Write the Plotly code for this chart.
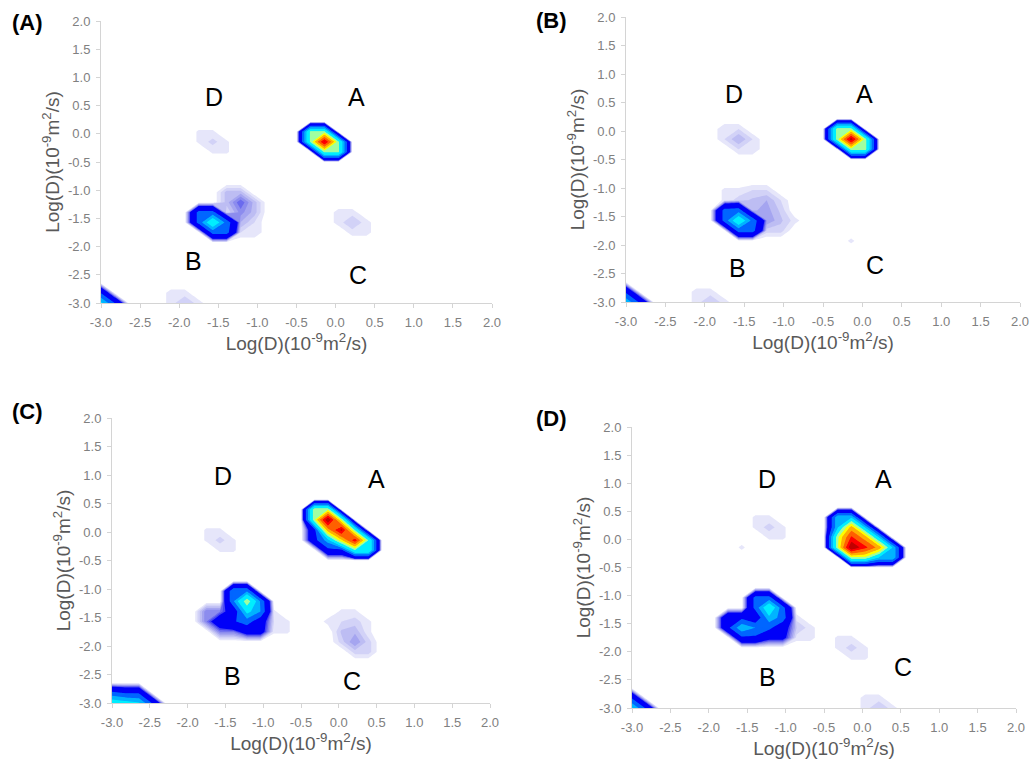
import numpy as np
import plotly.graph_objects as go

# ---------------- data ----------------
# Log(D) sampling grid shared by both axes (29 nodes, -3 .. 2)
logD_grid = [-3.0, -2.821, -2.643, -2.464, -2.286, -2.107, -1.929, -1.75, -1.571,
             -1.393, -1.214, -1.036, -0.857, -0.679, -0.5, -0.321, -0.143, 0.036,
             0.214, 0.393, 0.571, 0.75, 0.929, 1.107, 1.286, 1.464, 1.643, 1.821, 2.0]

tick_values = [-3.0, -2.5, -2.0, -1.5, -1.0, -0.5, 0.0, 0.5, 1.0, 1.5, 2.0]
tick_labels = ["-3.0", "-2.5", "-2.0", "-1.5", "-1.0", "-0.5", "0.0",
               "0.5", "1.0", "1.5", "2.0"]

panel_names = ["(A)", "(B)", "(C)", "(D)"]
peak_names = ["A", "B", "C", "D"]

# non-zero intensities read at grid nodes: (column index, row index, intensity)
panelA_nodes = [
    (16, 16, 92), (15, 16, 46), (17, 16, 46), (16, 15, 46), (16, 17, 46), (15, 17, 46), (17, 15, 46),
    (8, 8, 42), (10, 8, 4), (10, 10, 7), (7, 8, 21), (9, 8, 23), (11, 8, 2), (9, 10, 3.5), (11, 10, 3.5),
    (8, 7, 21), (8, 9, 21), (10, 7, 2), (10, 9, 5.5), (10, 11, 3.5), (7, 9, 21), (9, 7, 21), (9, 9, 2),
    (9, 11, 3.5), (11, 7, 2), (11, 9, 3.5),
    (8, 16, 2.4), (7, 16, 1.2), (9, 16, 1.2), (8, 15, 1.2), (8, 17, 1.2), (7, 17, 1.2), (9, 15, 1.2),
    (18, 8, 3), (17, 8, 1.5), (19, 8, 1.5), (18, 7, 1.5), (18, 9, 1.5), (17, 9, 1.5), (19, 7, 1.5),
    (6, 0, 3), (5, 0, 1.5), (7, 0, 1.5), (6, 1, 1.5), (5, 1, 1.5),
    (0, 0, 35), (1, 0, 17.5), (0, 1, 17.5),
]

panelB_nodes = [
    (16, 16, 95), (15, 16, 47.5), (17, 16, 47.5), (16, 15, 47.5), (16, 17, 47.5), (15, 17, 47.5), (17, 15, 47.5),
    (8, 8, 42), (10, 8, 5), (12, 8, 1.5), (8, 10, 2.5), (10, 10, 4),
    (7, 8, 21), (9, 8, 23.5), (11, 8, 3.25), (7, 10, 1.25), (9, 10, 3.25), (11, 10, 2),
    (8, 7, 21), (8, 9, 22.25), (8, 11, 1.25), (10, 7, 2.5), (10, 9, 4.5), (10, 11, 2),
    (7, 9, 21), (7, 11, 1.25), (9, 7, 21), (9, 9, 3.75), (9, 11, 2), (11, 7, 2.5), (11, 9, 2.75),
    (8, 16, 4), (7, 16, 2), (9, 16, 2), (8, 15, 2), (8, 17, 2), (7, 17, 2), (9, 15, 2),
    (16, 6, 1.3),
    (6, 0, 3), (5, 0, 1.5), (7, 0, 1.5), (6, 1, 1.5), (5, 1, 1.5),
    (0, 0, 32), (1, 0, 16), (0, 1, 16),
]

panelC_nodes = [
    (16, 16, 30), (16, 18, 100), (18, 16, 86), (15, 16, 15), (17, 16, 58), (19, 16, 43),
    (15, 18, 50), (17, 18, 50), (16, 15, 15), (16, 17, 65), (16, 19, 50), (18, 15, 43), (18, 17, 43),
    (15, 17, 15), (15, 19, 50), (17, 15, 15), (17, 17, 93), (19, 15, 43),
    (10, 10, 50), (10, 8, 22), (8, 8, 12), (12, 8, 2), (7, 8, 6), (9, 8, 17), (11, 8, 12), (13, 8, 1.2),
    (9, 10, 25), (11, 10, 25), (8, 7, 6), (8, 9, 6), (10, 7, 11), (10, 9, 36), (10, 11, 25),
    (12, 7, 1.2), (12, 9, 1.2), (7, 9, 6), (9, 7, 6), (9, 9, 11), (9, 11, 25), (11, 7, 11),
    (11, 9, 26), (13, 7, 1.2),
    (8, 16, 2.4), (7, 16, 1.2), (9, 16, 1.2), (8, 15, 1.2), (8, 17, 1.2), (7, 17, 1.2), (9, 15, 1.2),
    (18, 6, 5), (18, 8, 2.5), (16, 8, 1.5), (17, 6, 2.5), (19, 6, 2.5), (17, 8, 2), (19, 8, 1.25),
    (18, 5, 2.5), (18, 7, 3.75), (18, 9, 1.25), (17, 7, 3.25), (17, 9, 1.25), (19, 5, 2.5), (19, 7, 1.25),
    (0, 0, 40), (1, 0, 37), (2, 0, 34), (3, 0, 17), (0, 1, 20), (1, 1, 17), (2, 1, 17),
]

panelD_nodes = [
    (16, 16, 100), (18, 16, 66), (16, 18, 64), (15, 16, 50), (17, 16, 83), (19, 16, 33),
    (15, 18, 32), (17, 18, 32), (16, 15, 50), (16, 17, 82), (16, 19, 32), (18, 15, 33), (18, 17, 33),
    (15, 17, 50), (15, 19, 32), (17, 15, 50), (17, 17, 65), (19, 15, 33),
    (10, 10, 42), (8, 8, 32), (10, 8, 20), (12, 8, 3), (7, 8, 16), (9, 8, 26), (11, 8, 11.5), (13, 8, 1.5),
    (9, 10, 21), (11, 10, 21), (8, 7, 16), (8, 9, 16), (10, 7, 10), (10, 9, 31), (10, 11, 21),
    (12, 7, 1.5), (12, 9, 1.5), (7, 9, 16), (9, 7, 16), (9, 9, 10), (9, 11, 21), (11, 7, 10),
    (11, 9, 22.5), (13, 7, 1.5),
    (10, 18, 2.5), (9, 18, 1.25), (11, 18, 1.25), (10, 17, 1.25), (10, 19, 1.25), (9, 19, 1.25), (11, 17, 1.25),
    (8, 16, 1.3),
    (16, 6, 2.5), (15, 6, 1.25), (17, 6, 1.25), (16, 5, 1.25), (16, 7, 1.25), (15, 7, 1.25), (17, 5, 1.25),
    (18, 0, 3), (17, 0, 1.5), (19, 0, 1.5), (18, 1, 1.5), (17, 1, 1.5),
    (0, 0, 34), (1, 0, 17), (0, 1, 17),
]

# colour bands (lower bound of each band) and their colours
band_levels = [1, 2, 3, 4, 5, 6, 7, 8, 18, 26, 33, 44, 52, 60, 70, 80, 90]
band_colors = ["#e6e6fa", "#d2d2f7", "#bdbdf3", "#a5a5f0", "#8c8cee", "#6a6aee",
               "#4646f2", "#0000f8", "#0066ff", "#00b4ff", "#00eeff", "#a0ffa0",
               "#ffff00", "#ffb000", "#ff6000", "#ff0000", "#c00000"]

# ---------------- figure ----------------
W, H = 1034, 767

def grid_from(nodes):
    z = np.zeros((len(logD_grid), len(logD_grid)))
    for c, r, v in nodes:
        z[r, c] = v
    return z

# stepped colour scale (contour start=1, size=1, end=100)
cscale = [[0.0, "#ffffff"]]
prev = "#ffffff"
for t, c in zip(band_levels, band_colors):
    p = (t - 0.5) / 100.0
    cscale.append([p, prev])
    cscale.append([p, c])
    prev = c
cscale.append([1.0, prev])

panels = [panelA_nodes, panelB_nodes, panelC_nodes, panelD_nodes]

# plot-area pixel boxes (left, right, top, bottom)
boxes = [(101, 492, 21, 303), (626, 1020, 17, 302),
         (112, 490, 418, 703), (632, 1016, 427, 708)]

label_pos = [(27, 22), (551, 21), (27, 411), (551, 418)]

peak_pos = [
    {"D": (-1.56, 0.65), "A": (0.27, 0.65), "B": (-1.82, -2.26), "C": (0.28, -2.50)},
    {"D": (-1.63, 0.65), "A": (0.03, 0.65), "B": (-1.58, -2.40), "C": (0.16, -2.35)},
    {"D": (-1.53, 0.98), "A": (0.505, 0.93), "B": (-1.41, -2.53), "C": (0.175, -2.61)},
    {"D": (-1.24, 1.07), "A": (0.27, 1.07), "B": (-1.24, -2.45), "C": (0.53, -2.27)},
]

fig = go.Figure()
annotations = []
layout_axes = {}
font_family = "Liberation Sans, Arial, sans-serif"
axis_title = "Log(D)(10<sup>-9</sup>m<sup>2</sup>/s)"

for i, nodes in enumerate(panels):
    n = "" if i == 0 else str(i + 1)
    fig.add_trace(go.Contour(
        x=logD_grid, y=logD_grid, z=grid_from(nodes),
        xaxis="x" + n, yaxis="y" + n,
        colorscale=cscale, showscale=False,
        contours=dict(coloring="fill", showlines=False, start=1, end=100, size=1),
        line=dict(width=0, smoothing=0), hoverinfo="skip",
    ))
    l, r, t, b = boxes[i]
    common = dict(
        range=[-3, 2], tickmode="array", tickvals=tick_values, ticktext=tick_labels,
        showline=True, linecolor="#d4d4d4", linewidth=1,
        ticks="outside", ticklen=4, tickcolor="#d4d4d4",
        showgrid=False, zeroline=False, automargin=False,
        tickfont=dict(family=font_family, size=13, color="#808080"),
        ticklabelstandoff=3,
        title=dict(text=axis_title, font=dict(family=font_family, size=19, color="#595959")),
    )
    xa = dict(common, domain=[l / W, r / W], anchor="y" + n)
    xa["title"] = dict(common["title"], standoff=5)
    ya = dict(common, domain=[1 - b / H, 1 - t / H], anchor="x" + n)
    ya["title"] = dict(common["title"], standoff=3)
    layout_axes["xaxis" + n] = xa
    layout_axes["yaxis" + n] = ya

    lx, ly = label_pos[i]
    annotations.append(dict(text="<b>" + panel_names[i] + "</b>", xref="paper", yref="paper",
                            x=lx / W, y=1 - ly / H, xanchor="center", yanchor="middle",
                            showarrow=False,
                            font=dict(family=font_family, size=22, color="#000000")))
    for name in peak_names:
        px, py = peak_pos[i][name]
        annotations.append(dict(text=name, xref="x" + n, yref="y" + n, x=px, y=py,
                                xanchor="center", yanchor="middle", showarrow=False,
                                font=dict(family=font_family, size=25, color="#000000")))

fig.update_layout(
    width=W, height=H, margin=dict(l=0, r=0, t=0, b=0),
    paper_bgcolor="#ffffff", plot_bgcolor="#ffffff",
    template="none", showlegend=False,
    annotations=annotations, **layout_axes,
)

fig.write_html("out.html")
